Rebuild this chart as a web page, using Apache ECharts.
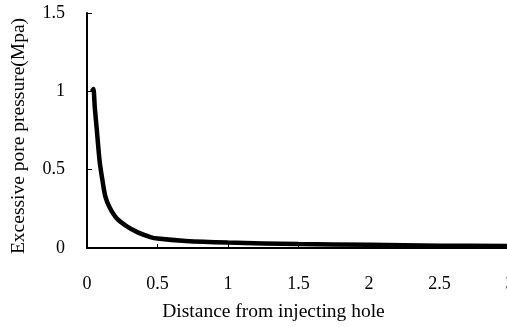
<!DOCTYPE html>
<html>
<head>
<meta charset="utf-8">
<script src="https://cdn.jsdelivr.net/npm/echarts@6/dist/echarts.min.js"></script>
<style>
  html, body { margin: 0; padding: 0; background: #fff; }
  #chart { width: 507px; height: 327px; }
</style>
</head>
<body>
<div id="chart"></div>
<script>
// distance from injecting hole (x) and excess pore pressure in MPa (y)
const distance = [0.035, 0.045, 0.055, 0.07, 0.09, 0.11, 0.13, 0.16, 0.21, 0.28, 0.36, 0.45, 0.5, 0.7, 1.0, 1.5, 2.0, 2.5, 3.0];
const pressure = [1.0, 1.015, 0.9, 0.75, 0.55, 0.43, 0.33, 0.26, 0.19, 0.14, 0.1, 0.07, 0.06, 0.045, 0.035, 0.025, 0.02, 0.015, 0.012];

const xTicks = [0, 0.5, 1, 1.5, 2, 2.5, 3];
const yTicks = [0, 0.5, 1, 1.5];

const font = "'Liberation Serif', 'Times New Roman', serif";

const chart = echarts.init(document.getElementById("chart"));

const option = {
  animation: false,
  grid: { left: 87, right: -3, top: 13, bottom: 79, outerBoundsMode: "none", containLabel: false },
  xAxis: {
    type: "value",
    min: xTicks[0],
    max: xTicks[xTicks.length - 1],
    interval: 0.5,
    name: "Distance from injecting hole",
    nameLocation: "middle",
    nameGap: 54,
    nameTextStyle: { color: "#000", fontFamily: font, fontSize: 19.5, padding: [0, 50, 0, 0] },
    axisLine: { lineStyle: { color: "#000", width: 2 } },
    axisTick: { inside: true, length: 4, lineStyle: { color: "#000", width: 1 } },
    axisLabel: { color: "#000", fontFamily: font, fontSize: 18, margin: 27 },
    splitLine: { show: false }
  },
  yAxis: {
    type: "value",
    min: yTicks[0],
    max: yTicks[yTicks.length - 1],
    interval: 0.5,
    name: "Excessive pore pressure(Mpa)",
    nameLocation: "middle",
    nameGap: 58,
    nameTextStyle: { color: "#000", fontFamily: font, fontSize: 19.5, padding: [0, 0, 0, -11] },
    axisLine: { show: true, lineStyle: { color: "#000", width: 2 } },
    axisTick: { show: true, inside: true, length: 5, lineStyle: { color: "#000", width: 1 } },
    axisLabel: { color: "#000", fontFamily: font, fontSize: 18, margin: 22 },
    splitLine: { show: false }
  },
  series: [
    {
      type: "line",
      data: distance.map((d, i) => [d, pressure[i]]),
      smooth: 0.3,
      symbol: "none",
      lineStyle: { color: "#000", width: 4.5 }
    }
  ]
};

chart.setOption(option);
</script>
</body>
</html>
